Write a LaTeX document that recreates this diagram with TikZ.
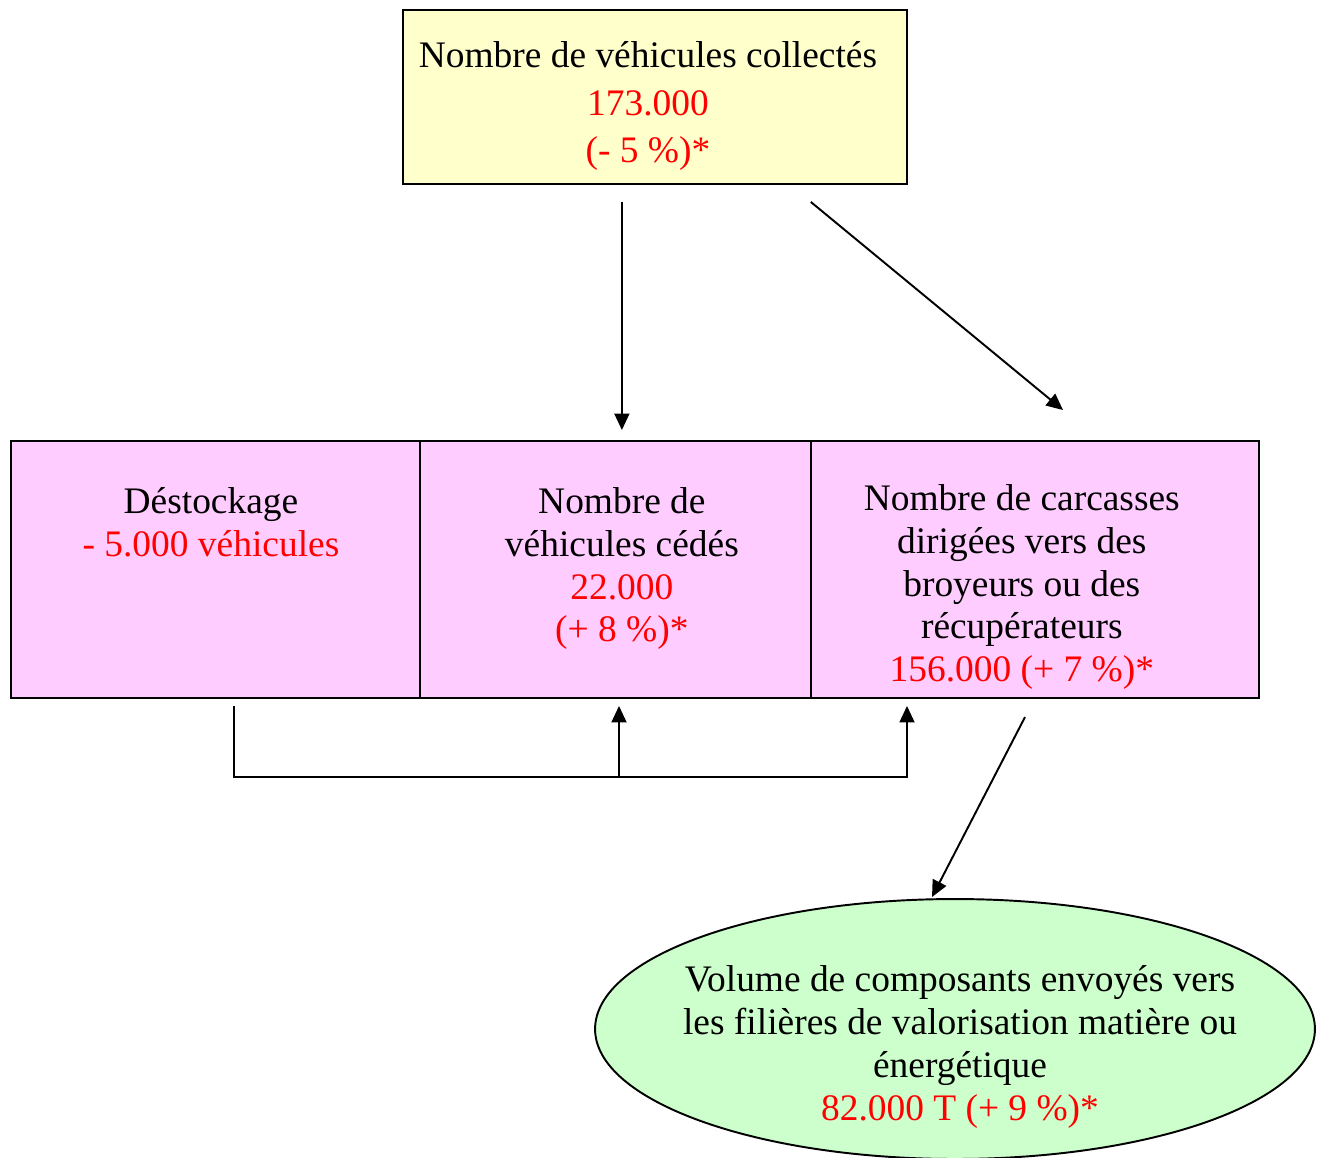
\documentclass[tikz,border=0pt]{standalone}
\usepackage{fontspec}
\setmainfont{Liberation Serif}
\usetikzlibrary{positioning,shapes.geometric,arrows.meta}

\definecolor{boxyellow}{HTML}{FFFFCC}
\definecolor{boxpink}{HTML}{FFCCFF}
\definecolor{boxgreen}{HTML}{CCFFCC}
\definecolor{numred}{HTML}{FF0000}

\begin{document}
\begin{tikzpicture}[
  x=0.02cm, y=-0.02cm,
  node distance = 0cm,
  box/.style = {
    draw, rectangle, line width=1.1pt,
    inner sep=0pt, outer sep=0pt,
    minimum height=5.14cm
  },
  txt/.style = {
    align=center, inner sep=0pt,
    font=\fontsize{21.3}{24.4}\selectfont
  },
  link/.style = {line width=1.1pt, -{Triangle[length=0.33cm,width=0.3cm]}}
]
\useasboundingbox (0,0) rectangle (1324,1157);

\node[box, fill=boxyellow, minimum width=10.08cm, minimum height=3.48cm, anchor=north west] (collect) at (403,10) {};
\node[txt, font=\fontsize{21.3}{27.3}\selectfont, xshift=-0.14cm, yshift=-0.18cm] (collecttxt) at (collect.center)
  {Nombre de véhicules collectés\\ \textcolor{numred}{173.000}\\ \textcolor{numred}{(- 5 \%)*}};

\node[box, fill=boxpink, minimum width=8.18cm, anchor=north west] (destock) at (11,441) {};
\node[box, fill=boxpink, minimum width=7.82cm, right=of destock] (cede) {};
\node[box, fill=boxpink, minimum width=8.96cm, right=of cede] (carc) {};

\node[txt, below=0.92cm of destock.north, xshift=-0.09cm] (destocktxt)
  {Déstockage\\ \textcolor{numred}{- 5.000 véhicules}};
\node[txt, below=0.92cm of cede.north, xshift=0.13cm] (cedetxt)
  {Nombre de\\ véhicules cédés\\ \textcolor{numred}{22.000}\\ \textcolor{numred}{(+ 8 \%)*}};
\node[txt, below=0.86cm of carc.north, xshift=-0.26cm] (carctxt)
  {Nombre de carcasses\\ dirigées vers des\\ broyeurs ou des\\ récupérateurs\\ \textcolor{numred}{156.000 (+ 7 \%)*}};

\node[ellipse, draw, fill=boxgreen, line width=1.1pt, inner sep=0pt,
  minimum width=14.4cm, minimum height=5.2cm] (volume) at (955,1029) {};
\node[txt, xshift=0.1cm, yshift=-0.36cm] (volumetxt) at (volume.center)
  {Volume de composants envoyés vers\\ les filières de valorisation matière ou\\ énergétique\\ \textcolor{numred}{82.000 T (+ 9 \%)*}};

\coordinate (carcin) at (1063,410);
\coordinate (fbstart) at (234,706);
\coordinate (fbmid) at (619,777);
\coordinate (fbend) at (907,777);
\coordinate (carcout) at (1025,717);
\coordinate (volin) at (932,897);

\draw[link, shorten <=0.36cm, shorten >=0.22cm] ([xshift=0.13cm]collect.south -| cede.north) -- ([xshift=0.13cm]cede.north);
\draw[link] ([yshift=-0.36cm]collect.south -| carc.west) -- (carcin);
\draw[link, shorten >=0.16cm] (fbstart) |- (fbend) -- (fbend |- carc.south);
\draw[link, shorten >=0.16cm] (fbmid) -- (fbmid |- cede.south);
\draw[link] (carcout) -- (volin);

\end{tikzpicture}
\end{document}
